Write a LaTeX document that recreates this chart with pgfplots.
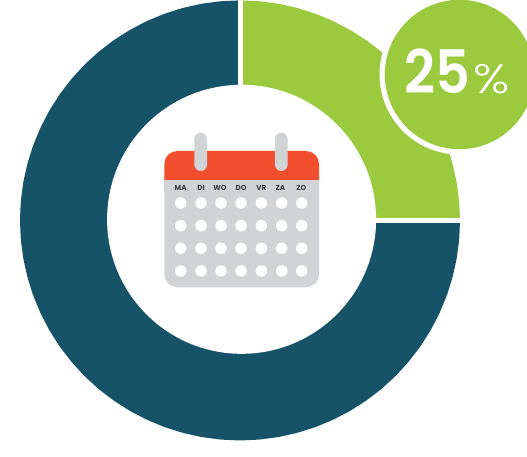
\documentclass[border=0pt]{standalone}
\usepackage{pgfplots}
\usepgfplotslibrary{polar}
\pgfplotsset{compat=1.18}
\usepackage{fontspec}
\setmainfont{Poppins}
\newfontfamily\semifont{Poppins SemiBold}
\newfontfamily\thinfont{Poppins Light}
\definecolor{ringgreen}{RGB}{155,202,62}
\definecolor{ringblue}{RGB}{23,83,104}
\definecolor{calred}{RGB}{241,78,45}
\definecolor{calgrey}{RGB}{209,211,212}
\definecolor{calink}{RGB}{60,60,62}
\begin{document}
\begin{tikzpicture}
\path[use as bounding box,clip] (0pt,0pt) rectangle (527pt,-457pt);
\begin{polaraxis}[
  at={(240pt,-220.4pt)},anchor=center,
  hide axis,clip=false,scale only axis,
  width=440pt,height=440pt,
  xmin=0,xmax=360,ymin=0,ymax=220]
% 25 percent share: a quarter of the ring, angle in degrees, radius at mid-band
\addplot[ringgreen,line width=90pt,line cap=butt,line join=round,no markers] coordinates {
(0,175)(5,175)(10,175)(15,175)(20,175)(25,175)(30,175)(35,175)(40,175)
(45,175)(50,175)(55,175)(60,175)(65,175)(70,175)(75,175)(80,175)(85,175)(90,175)};
% remaining 75 percent
\addplot[ringblue,line width=90pt,line cap=butt,line join=round,no markers] coordinates {
(90,175)(95,175)(100,175)(105,175)(110,175)(115,175)(120,175)(125,175)(130,175)
(135,175)(140,175)(145,175)(150,175)(155,175)(160,175)(165,175)(170,175)(175,175)
(180,175)(185,175)(190,175)(195,175)(200,175)(205,175)(210,175)(215,175)(220,175)
(225,175)(230,175)(235,175)(240,175)(245,175)(250,175)(255,175)(260,175)(265,175)
(270,175)(275,175)(280,175)(285,175)(290,175)(295,175)(300,175)(305,175)(310,175)
(315,175)(320,175)(325,175)(330,175)(335,175)(340,175)(345,175)(350,175)(355,175)(360,175)};
% white separators at the two ends of the quarter
\addplot[white,line width=5pt,no markers] coordinates {(90,120)(90,224)};
\addplot[white,line width=5pt,no markers] coordinates {(0,120)(0,224)};
\end{polaraxis}
\begin{scope}[x=1pt,y=-1pt]
% hole of the ring
\fill[white] (241.6,219.3) circle[radius=134.5];
% percentage badge
\fill[white] (459.5,74.5) circle[radius=80];
\fill[ringgreen] (459.5,74.5) circle[radius=74.7];
\node[white,anchor=base east,inner sep=0pt,xscale=0.9,font=\fontsize{60}{60}\selectfont\semifont] at (470.5,94) {25};
\node[white,anchor=base west,inner sep=0pt,xscale=1.22,font=\fontsize{41}{41}\selectfont\thinfont] at (473,94) {\%};
% calendar icon
\fill[calgrey,rounded corners=13pt] (164.3,165) rectangle (319,287.3);
\fill[calgrey] (164.3,175) rectangle (319,190);
\begin{scope}
\clip (164.3,179.3) rectangle (319,140);
\fill[calred,rounded corners=13pt] (164.3,151) rectangle (319,200);
\end{scope}
\foreach \xc in {200.7,281.3} {
  \fill[calgrey,rounded corners=6.3pt] (\xc-6.35,132.7) rectangle (\xc+6.35,171);
}
\foreach \xc/\lab in {180.7/MA,201/DI,220/WO,241/DO,261.3/VR,280.5/ZA,301.3/ZO} {
  \node[calink,inner sep=0pt,font=\fontsize{7.2}{8}\selectfont\bfseries] at (\xc,188.3) {\lab};
}
\foreach \yc in {203,225.7,248.3,271} {
  \foreach \xc in {180.7,201,221,241,261.3,281.7,301.7} {
    \fill[white] (\xc,\yc) circle[radius=5.7];
  }
}
\end{scope}
\end{tikzpicture}
\end{document}
